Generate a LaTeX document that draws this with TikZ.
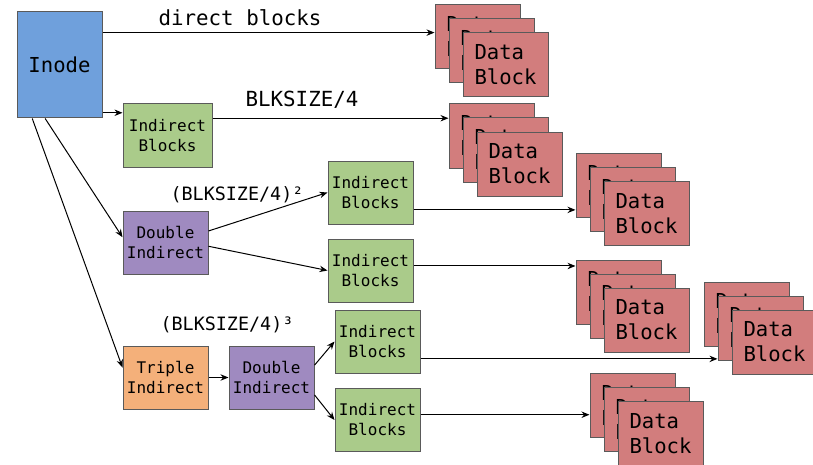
\documentclass[tikz,border=0pt]{standalone}
\usepackage{fontspec}
\setmonofont{DejaVu Sans Mono}
\usetikzlibrary{arrows.meta}

\definecolor{inodeblue}{HTML}{6FA0DC}
\definecolor{indgreen}{HTML}{AACB8A}
\definecolor{dblpurple}{HTML}{9F8AC0}
\definecolor{triorange}{HTML}{F4B07A}
\definecolor{datared}{HTML}{D27D7D}
\definecolor{edgegray}{HTML}{5A5A5A}

\begin{document}
\begin{tikzpicture}
  [x=0.5pt,y=-0.5pt,>={Stealth[length=4pt,width=3.2pt]},
   box/.style={rectangle, draw=edgegray, line width=0.5pt, inner sep=0pt, align=center,
     minimum width=42.5pt, minimum height=31.5pt, font=\ttfamily\fontsize{8}{10}\selectfont},
   inodebox/.style={box, fill=inodeblue, minimum height=53pt, font=\ttfamily\fontsize{10.3}{12.5}\selectfont},
   indbox/.style={box, fill=indgreen},
   dblbox/.style={box, fill=dblpurple},
   tribox/.style={box, fill=triorange},
   datablk/.style={box, fill=datared, minimum height=32pt, align=left,
     font=\ttfamily\fontsize{10.3}{12.5}\selectfont},
   lbl/.style={inner sep=0pt, font=\ttfamily\fontsize{10.4}{12}\selectfont},
   lblsmall/.style={inner sep=0pt, font=\ttfamily\fontsize{9.2}{11}\selectfont}]
  \useasboundingbox (0,0) rectangle (813,465);

  % left column
  \node[inodebox] (inode) at (59.5,65) {Inode};
  \node[indbox, minimum width=44.5pt] (ib1) at (167.5,135.5) {Indirect\\Blocks};
  \node[dblbox] (di1) at (165.5,242.5) {Double\\Indirect};
  \node[tribox] (ti) at (165.5,377.5) {Triple\\Indirect};
  \node[dblbox] (di2) at (271.5,377.5) {Double\\Indirect};

  % second level indirect blocks
  \node[indbox] (iba) at (370.5,192.5) {Indirect\\Blocks};
  \node[indbox] (ibb) at (370.5,270.5) {Indirect\\Blocks};
  \node[indbox] (ibc) at (377.5,341.5) {Indirect\\Blocks};
  \node[indbox] (ibd) at (377.5,420) {Indirect\\Blocks};

  % stacks of data blocks
  \foreach \s/\x/\y in {1/477.5/37, 2/491.5/136, 3/618.5/185.5, 4/618.5/292, 5/746.5/314, 6/632.5/405.5} {
    \node[datablk] (d\s-a) at (\x,\y) {Data\\Block};
    \node[datablk] (d\s-b) at (\x+14,\y+14) {Data\\Block};
    \node[datablk] (d\s-c) at (\x+28,\y+28) {Data\\Block};
  }

  % labels
  \node[lbl] (ldirect) at (240,18) {direct blocks};
  \node[lbl] (lsingle) at (302,100) {BLKSIZE/4};
  \node[lblsmall] (ldouble) at (237,195) {(BLKSIZE/4)²};
  \node[lblsmall] (ltriple) at (227,325) {(BLKSIZE/4)³};

  % connectors
  \foreach \from/\to in {inode.37/d1-a, inode.-48/ib1, ib1.21/d2-a, iba.-22/d3-a, ibb.6/d4-a, ibc.-22/d5-b, ibd.7/d6-a}
    \draw[->, line width=0.5pt] (\from) -- (\from -| \to.west);
  \foreach \from/\to in {di1.15/iba.west, di1.-5/ibb.west, di2.16/ibc.west, di2.-22/ibd.west, ti.east/di2.west, inode.-105/di1.173, inode.-117/ti.167}
    \draw[->, line width=0.5pt] (\from) -- (\to);
\end{tikzpicture}
\end{document}
